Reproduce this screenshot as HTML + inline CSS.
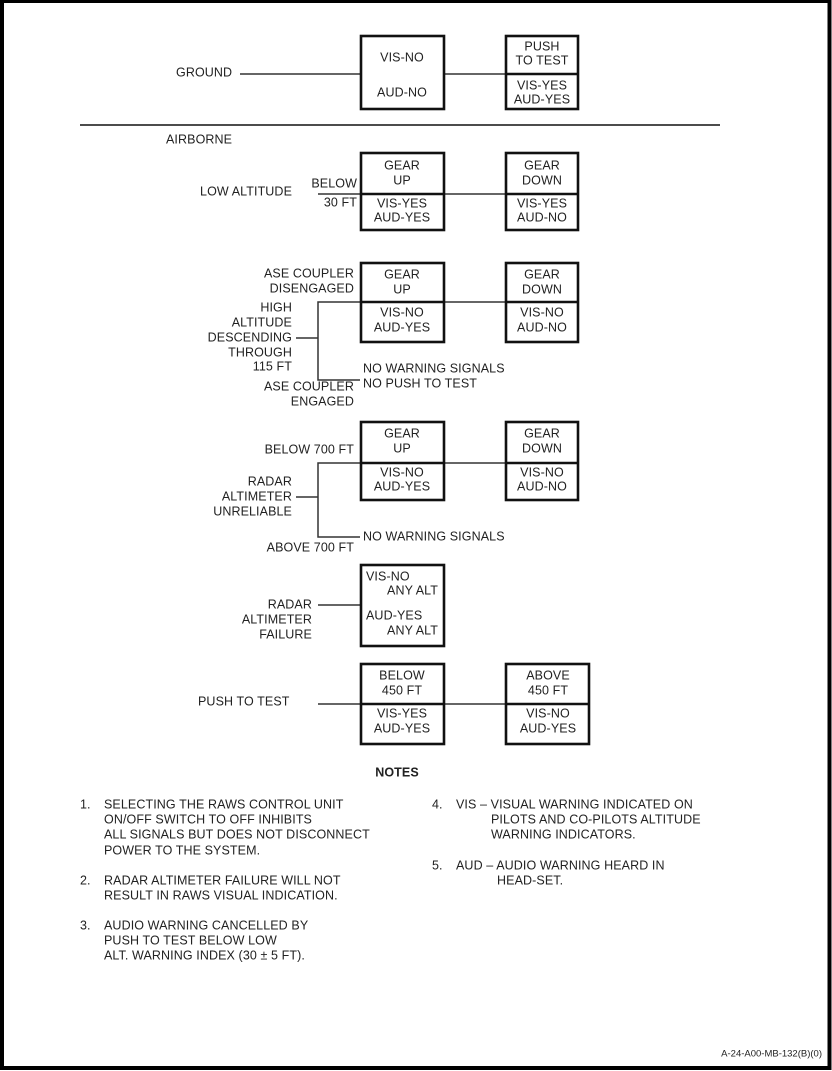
<!DOCTYPE html>
<html><head><meta charset="utf-8"><style>
html,body{margin:0;padding:0;background:#fff;}
svg{display:block;}
text{font-family:"Liberation Sans",sans-serif;font-size:12.5px;fill:#222;dominant-baseline:middle;letter-spacing:0.1px;}
.r{text-anchor:end;}
.c{text-anchor:middle;}
.b{stroke:#111;stroke-width:2.6;fill:none;}
.l{stroke:#333;stroke-width:1.5;fill:none;}
</style></head><body>
<svg width="832" height="1071" viewBox="0 0 832 1071" xmlns="http://www.w3.org/2000/svg">
<rect x="0" y="0" width="832" height="1071" fill="#fff"/>
<rect x="2" y="1" width="827.5" height="1067" fill="none" stroke="#000" stroke-width="4"/>

<!-- GROUND -->
<text x="176" y="73">GROUND</text>
<line class="l" x1="240" y1="74" x2="360" y2="74"/>
<line class="l" x1="444" y1="74" x2="505" y2="74"/>
<rect class="b" x="361" y="36" width="83" height="73"/>
<text class="c" x="402" y="58">VIS-NO</text>
<text class="c" x="402" y="93">AUD-NO</text>
<rect class="b" x="506" y="36" width="72" height="73"/>
<line class="b" x1="506" y1="74" x2="578" y2="74"/>
<text class="c" x="542" y="47">PUSH</text>
<text class="c" x="542" y="61">TO TEST</text>
<text class="c" x="542" y="86">VIS-YES</text>
<text class="c" x="542" y="100">AUD-YES</text>

<line x1="80" y1="125" x2="720" y2="125" stroke="#111" stroke-width="1.6"/>
<text x="166" y="140">AIRBORNE</text>

<!-- LOW ALT -->
<text class="r" x="292" y="192">LOW ALTITUDE</text>
<text class="r" x="357" y="184">BELOW</text>
<text class="r" x="357" y="203">30 FT</text>
<line class="l" x1="318" y1="194" x2="360" y2="194"/>
<line class="l" x1="444" y1="194" x2="505" y2="194"/>
<rect class="b" x="361" y="153" width="83" height="77"/>
<line class="b" x1="361" y1="194" x2="444" y2="194"/>
<text class="c" x="402" y="166">GEAR</text>
<text class="c" x="402" y="181">UP</text>
<text class="c" x="402" y="204">VIS-YES</text>
<text class="c" x="402" y="218">AUD-YES</text>
<rect class="b" x="506" y="153" width="72" height="77"/>
<line class="b" x1="506" y1="194" x2="578" y2="194"/>
<text class="c" x="542" y="166">GEAR</text>
<text class="c" x="542" y="181">DOWN</text>
<text class="c" x="542" y="204">VIS-YES</text>
<text class="c" x="542" y="218">AUD-NO</text>

<!-- HIGH ALT -->
<text class="r" x="354" y="274">ASE COUPLER</text>
<text class="r" x="354" y="289">DISENGAGED</text>
<text class="r" x="292" y="308">HIGH</text>
<text class="r" x="292" y="323">ALTITUDE</text>
<text class="r" x="292" y="338">DESCENDING</text>
<text class="r" x="292" y="353">THROUGH</text>
<text class="r" x="292" y="367">115 FT</text>
<text class="r" x="354" y="387">ASE COUPLER</text>
<text class="r" x="354" y="402">ENGAGED</text>
<line class="l" x1="296" y1="338" x2="318" y2="338"/>
<polyline class="l" points="360,302 318,302 318,380 360,380"/>
<line class="l" x1="444" y1="302" x2="505" y2="302"/>
<rect class="b" x="361" y="263" width="83" height="79"/>
<line class="b" x1="361" y1="302" x2="444" y2="302"/>
<text class="c" x="402" y="275">GEAR</text>
<text class="c" x="402" y="290">UP</text>
<text class="c" x="402" y="313">VIS-NO</text>
<text class="c" x="402" y="328">AUD-YES</text>
<rect class="b" x="506" y="263" width="72" height="79"/>
<line class="b" x1="506" y1="302" x2="578" y2="302"/>
<text class="c" x="542" y="275">GEAR</text>
<text class="c" x="542" y="290">DOWN</text>
<text class="c" x="542" y="313">VIS-NO</text>
<text class="c" x="542" y="328">AUD-NO</text>
<text x="363" y="369">NO WARNING SIGNALS</text>
<text x="363" y="384">NO PUSH TO TEST</text>

<!-- RADAR UNRELIABLE -->
<text class="r" x="354" y="450">BELOW 700 FT</text>
<text class="r" x="292" y="482">RADAR</text>
<text class="r" x="292" y="497">ALTIMETER</text>
<text class="r" x="292" y="512">UNRELIABLE</text>
<text class="r" x="354" y="548">ABOVE 700 FT</text>
<line class="l" x1="296" y1="497" x2="318" y2="497"/>
<polyline class="l" points="360,463 318,463 318,537 360,537"/>
<line class="l" x1="444" y1="463" x2="505" y2="463"/>
<rect class="b" x="361" y="422" width="83" height="78"/>
<line class="b" x1="361" y1="463" x2="444" y2="463"/>
<text class="c" x="402" y="434">GEAR</text>
<text class="c" x="402" y="449">UP</text>
<text class="c" x="402" y="473">VIS-NO</text>
<text class="c" x="402" y="487">AUD-YES</text>
<rect class="b" x="506" y="422" width="72" height="78"/>
<line class="b" x1="506" y1="463" x2="578" y2="463"/>
<text class="c" x="542" y="434">GEAR</text>
<text class="c" x="542" y="449">DOWN</text>
<text class="c" x="542" y="473">VIS-NO</text>
<text class="c" x="542" y="487">AUD-NO</text>
<text x="363" y="537">NO WARNING SIGNALS</text>

<!-- RADAR FAILURE -->
<text class="r" x="312" y="605">RADAR</text>
<text class="r" x="312" y="620">ALTIMETER</text>
<text class="r" x="312" y="635">FAILURE</text>
<line class="l" x1="318" y1="605" x2="360" y2="605"/>
<rect class="b" x="361" y="565" width="83" height="81"/>
<text x="366" y="577">VIS-NO</text>
<text class="r" x="438" y="591">ANY ALT</text>
<text x="366" y="616">AUD-YES</text>
<text class="r" x="438" y="631">ANY ALT</text>

<!-- PUSH TO TEST -->
<text x="198" y="702">PUSH TO TEST</text>
<line class="l" x1="318" y1="704" x2="360" y2="704"/>
<line class="l" x1="444" y1="704" x2="505" y2="704"/>
<rect class="b" x="361" y="664" width="83" height="80"/>
<line class="b" x1="361" y1="704" x2="444" y2="704"/>
<text class="c" x="402" y="676">BELOW</text>
<text class="c" x="402" y="691">450 FT</text>
<text class="c" x="402" y="714">VIS-YES</text>
<text class="c" x="402" y="729">AUD-YES</text>
<rect class="b" x="506" y="664" width="83" height="80"/>
<line class="b" x1="506" y1="704" x2="589" y2="704"/>
<text class="c" x="548" y="676">ABOVE</text>
<text class="c" x="548" y="691">450 FT</text>
<text class="c" x="548" y="714">VIS-NO</text>
<text class="c" x="548" y="729">AUD-YES</text>

<!-- NOTES -->
<text class="c" x="397" y="773" style="font-weight:bold">NOTES</text>
<text x="80" y="805">1.</text>
<text x="104" y="805">SELECTING THE RAWS CONTROL UNIT</text>
<text x="104" y="820">ON/OFF SWITCH TO OFF INHIBITS</text>
<text x="104" y="835">ALL SIGNALS BUT DOES NOT DISCONNECT</text>
<text x="104" y="851">POWER TO THE SYSTEM.</text>
<text x="80" y="881">2.</text>
<text x="104" y="881">RADAR ALTIMETER FAILURE WILL NOT</text>
<text x="104" y="896">RESULT IN RAWS VISUAL INDICATION.</text>
<text x="80" y="926">3.</text>
<text x="104" y="926">AUDIO WARNING CANCELLED BY</text>
<text x="104" y="941">PUSH TO TEST BELOW LOW</text>
<text x="104" y="956">ALT. WARNING INDEX (30 ± 5 FT).</text>
<text x="432" y="805">4.</text>
<text x="456" y="805">VIS – VISUAL WARNING INDICATED ON</text>
<text x="491" y="820">PILOTS AND CO-PILOTS ALTITUDE</text>
<text x="491" y="835">WARNING INDICATORS.</text>
<text x="432" y="866">5.</text>
<text x="456" y="866">AUD – AUDIO WARNING HEARD IN</text>
<text x="497" y="881">HEAD-SET.</text>

<text class="r" x="822" y="1054" style="font-size:9.5px;letter-spacing:0px">A-24-A00-MB-132(B)(0)</text>
</svg>
</body></html>
